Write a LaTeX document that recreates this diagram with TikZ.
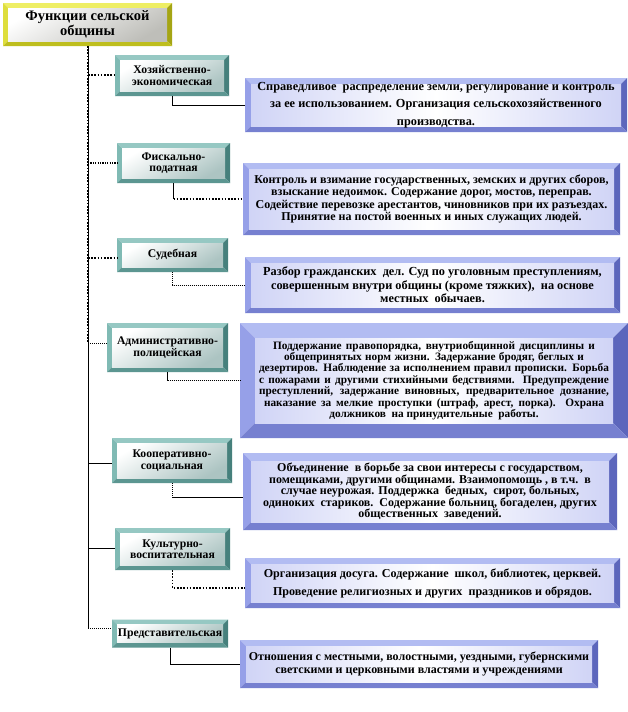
\documentclass[tikz,border=0pt]{standalone}
\usepackage{fontspec}
\setmainfont{Liberation Serif}
\usetikzlibrary{calc}
\definecolor{dTop}{RGB}{178,188,242}
\definecolor{dLeft}{RGB}{150,160,232}
\definecolor{dRight}{RGB}{92,102,188}
\definecolor{dBot}{RGB}{118,128,208}
\definecolor{dIn}{RGB}{208,212,246}
\definecolor{fTop}{RGB}{150,200,195}
\definecolor{fLeft}{RGB}{128,186,180}
\definecolor{fRight}{RGB}{70,128,124}
\definecolor{fBot}{RGB}{92,150,145}
\definecolor{fIn}{RGB}{172,196,194}
\definecolor{tTop}{RGB}{238,238,100}
\definecolor{tLeft}{RGB}{222,222,60}
\definecolor{tRight}{RGB}{165,165,20}
\definecolor{tBot}{RGB}{190,190,30}
\definecolor{tIn}{RGB}{190,190,185}
\newcommand\jline[2]{\makebox[#1][s]{#2}}
\tikzset{
  bevelw/.store in=\bevelw, bevelw=5pt,
  bvtop/.style={}, bvleft/.style={}, bvright/.style={}, bvbot/.style={}, bvin/.style={},
  bevel/.style={inner sep=0pt, outer sep=0pt,
    path picture={
      \path (path picture bounding box.south west) coordinate (bvsw)
            (path picture bounding box.north east) coordinate (bvne)
            (path picture bounding box.north west) coordinate (bvnw)
            (path picture bounding box.south east) coordinate (bvse);
      \path ($(bvsw)+(\bevelw,\bevelw)$) coordinate (bvisw)
            ($(bvne)+(-\bevelw,-\bevelw)$) coordinate (bvine)
            ($(bvnw)+(\bevelw,-\bevelw)$) coordinate (bvinw)
            ($(bvse)+(-\bevelw,\bevelw)$) coordinate (bvise);
      \fill[bvtop] (bvnw) -- (bvne) -- (bvine) -- (bvinw) -- cycle;
      \fill[bvleft] (bvnw) -- (bvinw) -- (bvisw) -- (bvsw) -- cycle;
      \fill[bvright] (bvne) -- (bvse) -- (bvise) -- (bvine) -- cycle;
      \fill[bvbot] (bvsw) -- (bvisw) -- (bvise) -- (bvse) -- cycle;
      \shade[bvin] (bvisw) rectangle (bvine);
    }},
  descbox/.style={bevel, bevelw=6pt,
    bvtop/.style={fill=dTop}, bvleft/.style={fill=dLeft},
    bvright/.style={fill=dRight}, bvbot/.style={fill=dBot},
    bvin/.style={left color=dIn, right color=dIn, middle color=white},
    font=\bfseries\fontsize{12}{12.2}\selectfont, align=center},
  funcbox/.style={bevel, bevelw=5pt,
    bvtop/.style={fill=fTop}, bvleft/.style={fill=fLeft},
    bvright/.style={fill=fRight}, bvbot/.style={fill=fBot},
    bvin/.style={top color=white, bottom color=fIn, shading angle=30},
    font=\bfseries\fontsize{11.7}{11.5}\selectfont, align=center},
  titlebox/.style={bevel, bevelw=5pt,
    bvtop/.style={fill=tTop}, bvleft/.style={fill=tLeft},
    bvright/.style={fill=tRight}, bvbot/.style={fill=tBot},
    bvin/.style={top color=white, bottom color=tIn, shading angle=30},
    font=\bfseries\fontsize{14.5}{15}\selectfont, align=center},
  solidln/.style={draw=black, line width=0.9pt},
  thickdot/.style={draw=black, line width=1.6pt, dash pattern=on 1.6pt off 1.6pt},
  finedot/.style={draw=black, line width=0.8pt, dash pattern=on 1pt off 1pt},
  meddot/.style={draw=black, line width=1.1pt, dash pattern=on 1.2pt off 1.2pt},
}
\begin{document}
\begin{tikzpicture}[x=1pt, y=-1pt]
\useasboundingbox[fill=white] (0,0) rectangle (628,712);

\node[titlebox, minimum width=169pt, minimum height=43pt] (title) at (87.5,24.5) {Функции сельской\\общины};

\node[funcbox, minimum width=114pt, minimum height=41pt] (f1) at (172,75.5) {Хозяйственно-\\экономическая};
\node[funcbox, minimum width=113pt, minimum height=40pt] (f2) at (173.5,163) {Фискально-\\податная};
\node[funcbox, minimum width=111pt, minimum height=34pt] (f3) at (172.5,255) {Судебная};
\node[funcbox, minimum width=121pt, minimum height=49pt] (f4) at (167.5,347.5) {Административно-\\полицейская};
\node[funcbox, minimum width=120pt, minimum height=45pt] (f5) at (172,460.5) {Кооперативно-\\социальная};
\node[funcbox, minimum width=115pt, minimum height=42pt] (f6) at (172.5,549) {Культурно-\\воспитательная};
\node[funcbox, minimum width=116pt, minimum height=28pt] (f7) at (170,633.5) {Представительская};

\node[descbox, minimum width=382pt, minimum height=54pt, font=\bfseries\fontsize{12.3}{17.5}\selectfont] (d1) at (436,105)
  {Справедливое\ \ распределение земли, регулирование и контроль\\за ее использованием. Организация сельскохозяйственного\\производства.};
\node[descbox, minimum width=377pt, minimum height=72pt] (d2) at (431.5,199)
  {Контроль и взимание государственных, земских и других сборов,\\взыскание недоимок. Содержание дорог, мостов, переправ.\\Содействие перевозке арестантов, чиновников при их разъездах.\\Принятие на постой военных и иных служащих людей.};
\node[descbox, minimum width=375pt, minimum height=56pt, font=\bfseries\fontsize{12.3}{13.5}\selectfont] (d3) at (432.5,285)
  {Разбор гражданских\ \ дел. Суд по уголовным преступлениям,\\совершенным внутри общины (кроме тяжких),\ \ на основе\\местных\ \ обычаев.};
\node[descbox, bevelw=15pt, minimum width=388pt, minimum height=115pt, font=\bfseries\fontsize{11.3}{11.4}\selectfont] (d4) at (434,380.5)
  {\jline{322pt}{Поддержание правопорядка, внутриобщинной дисциплины и}\\
   \jline{300pt}{общепринятых норм жизни. Задержание бродяг, беглых и}\\
   \jline{350pt}{дезертиров. Наблюдение за исполнением правил прописки. Борьба}\\
   \jline{350pt}{с пожарами и другими стихийными бедствиями. Предупреждение}\\
   \jline{350pt}{преступлений, задержание виновных, предварительное дознание,}\\
   \jline{340pt}{наказание за мелкие проступки (штраф, арест, порка). Охрана}\\
   должников\ \ на принудительные\ \ работы.};
\node[descbox, bevelw=8pt, minimum width=374pt, minimum height=77pt, font=\bfseries\fontsize{12}{11.4}\selectfont] (d5) at (430,491.5)
  {Объединение\ \ в борьбе за свои интересы с государством,\\помещиками, другими общинами. Взаимопомощь , в т.ч.\ \ в\\случае неурожая. Поддержка\ \ бедных,\ \ сирот, больных,\\одиноких\ \ стариков.\ \ Содержание больниц, богаделен, других\\общественных\ \ заведений.};
\node[descbox, minimum width=375pt, minimum height=50pt, font=\bfseries\fontsize{12.1}{18}\selectfont] (d6) at (432.5,583)
  {Организация досуга. Содержание\ \ школ, библиотек, церквей.\\Проведение религиозных и других\ \ праздников и обрядов.};
\node[descbox, minimum width=358pt, minimum height=48pt, font=\bfseries\fontsize{12}{13}\selectfont] (d7) at (419,664)
  {Отношения с местными, волостными, уездными, губернскими\\светскими и церковными властями и учреждениями};

% trunk
\coordinate (t1) at (88,75);
\coordinate (t2) at (88,163);
\coordinate (t3) at (88,258);
\coordinate (t4) at (88,343);
\coordinate (t5) at (88,463);
\coordinate (t6) at (88,548);
\coordinate (t7) at (88,628);
\draw[solidln] (title.south -| t7) -- (t7);
\draw[thickdot] (title.south -| t7) -- (t4);

\draw[thickdot] (t1) -- (t1 -| f1.west);
\draw[meddot] (t2) -- (t2 -| f2.west);
\draw[thickdot] (t3) -- (t3 -| f3.west);
\draw[finedot] (t4) -- (t4 -| f4.west);
\draw[solidln] (t5) -- (t5 -| f5.west);
\draw[solidln] (t6) -- (t6 -| f6.west);
\draw[finedot] (t7) -- (t7 -| f7.west);

% function to description
\draw[solidln] (f1.south) |- (d1.west);
\draw[solidln] (f2.south) -- (f2.south |- d2.west);
\draw[thickdot] (f2.south |- d2.west) -- (d2.west);
\draw[finedot] (f3.south) |- (d3.west);
\draw[solidln] (f4.south) -- (f4.south |- d4.west);
\draw[finedot] (f4.south |- d4.west) -- (d4.west);
\coordinate (e5) at ([yshift=-6pt]d5.west);
\draw[finedot] (f5.south) -- (f5.south |- e5);
\draw[solidln] (f5.south |- e5) -- (e5);
\coordinate (e6) at ([yshift=-5pt]d6.west);
\draw[thickdot] (f6.south) |- (e6);
\draw[solidln] (f7.south) |- (d7.west);
\end{tikzpicture}
\end{document}
